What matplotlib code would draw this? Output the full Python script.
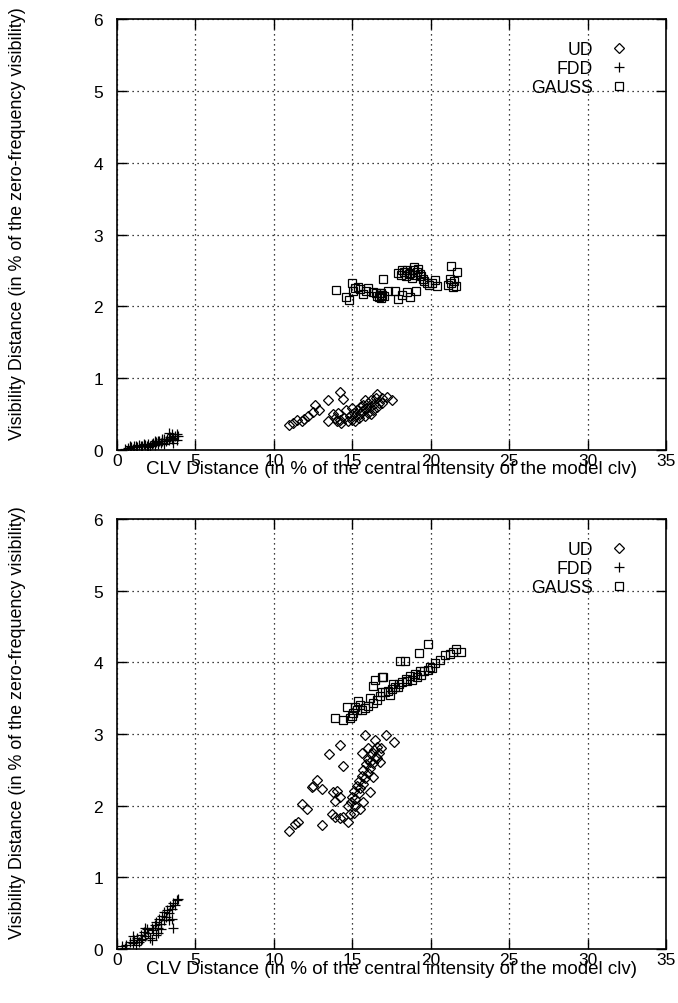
import matplotlib
matplotlib.use("Agg")
import matplotlib.pyplot as plt

plt.rcParams['font.family'] = ['Liberation Sans', 'DejaVu Sans']

# ---------------- data: top panel ----------------
top_ud_x = [10.98, 11.2, 11.5, 11.8, 11.9, 12.2, 12.5, 12.6, 12.9, 13.45, 13.45, 13.8, 13.9, 14.0,
            14.1, 14.2, 14.4, 14.2, 14.3, 14.5, 14.7, 14.85, 15.0, 15.1, 15.2, 15.3, 15.4, 15.5,
            15.5, 15.6, 15.7, 15.8, 15.9, 16.0, 16.0, 16.1, 16.2, 16.3, 16.4, 16.5, 16.55, 16.6,
            16.7, 16.9, 16.9, 17.2, 17.5, 15.0, 14.6, 15.2, 15.8, 16.2]
top_ud_y = [0.35, 0.38, 0.42, 0.41, 0.43, 0.48, 0.53, 0.62, 0.55, 0.69, 0.41, 0.50, 0.45, 0.40,
            0.52, 0.81, 0.71, 0.42, 0.38, 0.45, 0.40, 0.47, 0.42, 0.52, 0.48, 0.56, 0.45, 0.60,
            0.50, 0.54, 0.62, 0.48, 0.58, 0.66, 0.52, 0.60, 0.70, 0.56, 0.64, 0.72, 0.78, 0.60,
            0.66, 0.65, 0.72, 0.74, 0.69, 0.58, 0.55, 0.40, 0.70, 0.50]

top_fdd_x = [0.5, 0.7, 0.9, 1.0, 1.2, 1.3, 1.5, 1.6, 1.8, 1.9, 2.0, 2.1, 2.2, 2.3, 2.4, 2.5,
             2.6, 2.7, 2.8, 2.9, 3.0, 3.1, 3.2, 3.3, 3.4, 3.5, 3.5, 3.6, 3.7, 3.8, 3.9, 1.1,
             2.0, 2.6, 3.0, 3.3, 0.8, 1.4, 1.7, 2.4, 2.9, 3.6, 3.8]
top_fdd_y = [0.02, 0.03, 0.04, 0.02, 0.05, 0.04, 0.06, 0.05, 0.07, 0.06, 0.08, 0.06, 0.09, 0.10,
             0.07, 0.11, 0.09, 0.12, 0.10, 0.13, 0.15, 0.12, 0.16, 0.14, 0.18, 0.15, 0.22, 0.17,
             0.20, 0.14, 0.19, 0.06, 0.04, 0.13, 0.09, 0.24, 0.05, 0.07, 0.09, 0.12, 0.16, 0.10,
             0.22]

top_gauss_x = [13.96, 14.6, 14.8, 15.0, 15.05, 15.2, 15.36, 15.5, 15.7, 15.85, 16.0, 16.3, 16.5,
               16.6, 16.7, 16.8, 16.9, 17.0, 16.85, 16.75, 16.93, 17.3, 17.7, 17.9, 18.2, 18.46,
               18.7, 19.05, 17.9, 18.1, 18.3, 18.4, 18.5, 18.6, 18.7, 18.8, 18.9, 19.0, 19.1,
               19.2, 19.3, 19.4, 19.5, 19.6, 19.75, 19.9, 20.1, 20.3, 20.4, 21.3, 21.7, 21.1,
               21.3, 21.5, 21.6, 21.4, 21.2, 18.2, 18.95]
top_gauss_y = [2.23, 2.13, 2.09, 2.32, 2.22, 2.26, 2.27, 2.24, 2.17, 2.22, 2.25, 2.20, 2.18,
               2.15, 2.13, 2.12, 2.16, 2.14, 2.18, 2.19, 2.38, 2.22, 2.22, 2.10, 2.16, 2.20,
               2.13, 2.22, 2.46, 2.44, 2.48, 2.42, 2.50, 2.45, 2.47, 2.40, 2.50, 2.44, 2.48,
               2.52, 2.45, 2.42, 2.38, 2.35, 2.33, 2.30, 2.32, 2.36, 2.28, 2.56, 2.48, 2.30,
               2.33, 2.35, 2.28, 2.27, 2.38, 2.50, 2.55]

# ---------------- data: bottom panel ----------------
bot_ud_x = [10.98, 11.35, 11.56, 11.77, 12.09, 12.4, 12.51, 12.72, 13.05, 13.05, 13.53, 14.21,
            14.38, 13.79, 14.0, 13.9, 14.21, 13.68, 13.9, 14.21, 14.42, 14.74, 14.85, 15.8,
            16.44, 17.14, 17.65, 16.1, 15.7, 14.7, 14.9, 15.0, 15.1, 15.2, 15.3, 15.4, 15.4,
            15.5, 15.6, 15.7, 15.7, 15.8, 15.9, 16.0, 16.0, 16.1, 16.2, 16.3, 16.4, 16.5,
            16.6, 16.7, 16.8, 15.2, 15.5, 15.1, 16.3, 15.6, 16.0, 16.1, 16.55, 16.76]
bot_ud_y = [1.65, 1.74, 1.77, 2.02, 1.96, 2.26, 2.28, 2.36, 2.23, 1.73, 2.72, 2.84,
            2.56, 2.19, 2.21, 2.07, 2.12, 1.88, 1.84, 1.83, 1.84, 1.77, 1.88, 2.99,
            2.91, 2.98, 2.89, 2.19, 2.05, 2.00, 2.05, 2.12, 2.20, 2.10, 2.28, 2.18, 2.35,
            2.25, 2.42, 2.30, 2.50, 2.38, 2.58, 2.45, 2.65, 2.52, 2.72, 2.60, 2.78, 2.68,
            2.82, 2.74, 2.80, 2.00, 1.95, 1.90, 2.40, 2.74, 2.81, 2.61, 2.66, 2.61]

bot_fdd_x = [0.3, 0.6, 0.8, 1.0, 1.1, 1.2, 1.3, 1.4, 1.5, 1.6, 1.7, 1.8, 1.9, 2.0, 2.1, 2.2,
             2.3, 2.4, 2.5, 2.5, 2.6, 2.7, 2.8, 2.9, 3.0, 3.0, 3.1, 3.2, 3.3, 3.4, 3.5, 3.6,
             3.7, 3.8, 3.9, 3.48, 3.59, 2.2, 1.0, 1.8, 2.6, 0.5, 1.5, 2.8, 3.3]
bot_fdd_y = [0.04, 0.06, 0.10, 0.08, 0.13, 0.05, 0.16, 0.10, 0.20, 0.14, 0.24, 0.18, 0.28, 0.22,
             0.15, 0.30, 0.26, 0.34, 0.20, 0.38, 0.30, 0.42, 0.35, 0.46, 0.40, 0.52, 0.45, 0.55,
             0.50, 0.60, 0.56, 0.64, 0.62, 0.68, 0.70, 0.42, 0.30, 0.12, 0.18, 0.30, 0.22, 0.02,
             0.12, 0.28, 0.40]

bot_gauss_x = [13.9, 14.38, 14.64, 14.85, 15.06, 15.27, 15.38, 15.49, 15.6, 15.8, 16.0, 16.34,
               16.55, 16.76, 16.87, 16.34, 16.93, 16.87, 16.44, 17.1, 17.3, 17.5, 17.7, 18.0,
               18.4, 18.7, 19.0, 19.3, 19.6, 19.95, 20.3, 20.6, 20.9, 21.2, 21.4, 21.9, 21.6,
               18.04, 18.36, 19.27, 19.85, 17.9, 18.2, 18.5, 18.8, 19.1, 19.4, 19.8, 20.1,
               17.4, 17.6, 16.1, 15.2, 15.0]
bot_gauss_y = [3.22, 3.19, 3.37, 3.22, 3.29, 3.34, 3.46, 3.41, 3.34, 3.36, 3.39, 3.43,
               3.48, 3.53, 3.59, 3.67, 3.79, 3.79, 3.76, 3.59, 3.60, 3.63, 3.66, 3.70,
               3.77, 3.81, 3.84, 3.88, 3.88, 3.94, 3.99, 4.03, 4.10, 4.12, 4.14, 4.15, 4.18,
               4.02, 4.02, 4.13, 4.26, 3.65, 3.72, 3.74, 3.76, 3.80, 3.83, 3.90, 3.92,
               3.55, 3.70, 3.50, 3.38, 3.25]

labels = ["UD", "FDD", "GAUSS"]
x_ticks = [0, 5, 10, 15, 20, 25, 30, 35]
y_ticks = [0, 1, 2, 3, 4, 5, 6]
xlabel = "CLV Distance (in % of the central intensity of the model clv)"
ylabel = "Visibility Distance (in % of the zero-frequency visibility)"

fig = plt.figure(figsize=(6.78, 10.04), dpi=100)
L, R = 117 / 678, 666 / 678
W = (R - L) * 678
ax1 = fig.add_axes([L, 1 - 451 / 1004, R - L, 431 / 1004])
ax2 = fig.add_axes([L, 1 - 950 / 1004, R - L, 430 / 1004])

panels = [
    (ax1, (top_ud_x, top_ud_y), (top_fdd_x, top_fdd_y), (top_gauss_x, top_gauss_y)),
    (ax2, (bot_ud_x, bot_ud_y), (bot_fdd_x, bot_fdd_y), (bot_gauss_x, bot_gauss_y)),
]

for ax, ud, fdd, gauss in panels:
    ax.plot(ud[0], ud[1], linestyle='none', marker='D', ms=5.5, mfc='none', mec='black',
            mew=0.9, label=labels[0])
    ax.plot(fdd[0], fdd[1], linestyle='none', marker='+', ms=7, mec='black',
            mew=0.9, label=labels[1])
    ax.plot(gauss[0], gauss[1], linestyle='none', marker='s', ms=6.3, mfc='none', mec='black',
            mew=0.9, label=labels[2])
    ax.set_xlim(0, 35)
    ax.set_ylim(0, 6)
    ax.set_xticks(x_ticks)
    ax.set_yticks(y_ticks)
    ax.set_xticklabels([str(t) for t in x_ticks])
    ax.set_yticklabels([str(t) for t in y_ticks])
    ax.grid(True, color='black', linestyle=(0, (1, 3)), linewidth=0.9)
    ax.tick_params(direction='in', length=7, width=1, top=True, right=True,
                   labelsize=12.5, colors='black')
    ax.tick_params(axis='y', pad=10)
    ax.tick_params(axis='x', pad=2)
    for s in ax.spines.values():
        s.set_linewidth(1.2)
    ax.set_xlabel(xlabel, fontsize=13.5)
    ax.set_ylabel(ylabel, fontsize=12.9)
    h = ax.get_position().height * 1004
    ax.xaxis.set_label_coords(0.5, -10.5 / h)
    ax.yaxis.set_label_coords(-91 / W, 0.5 + 12 / h)
    ax.legend(loc='upper right', markerfirst=False, frameon=False, fontsize=12.7,
              handlelength=1.2, handletextpad=0.9, labelspacing=0.12,
              borderaxespad=0.0, bbox_to_anchor=(0.965 - 10 / W, 0.965))

fig.savefig("out.png", dpi=100)
